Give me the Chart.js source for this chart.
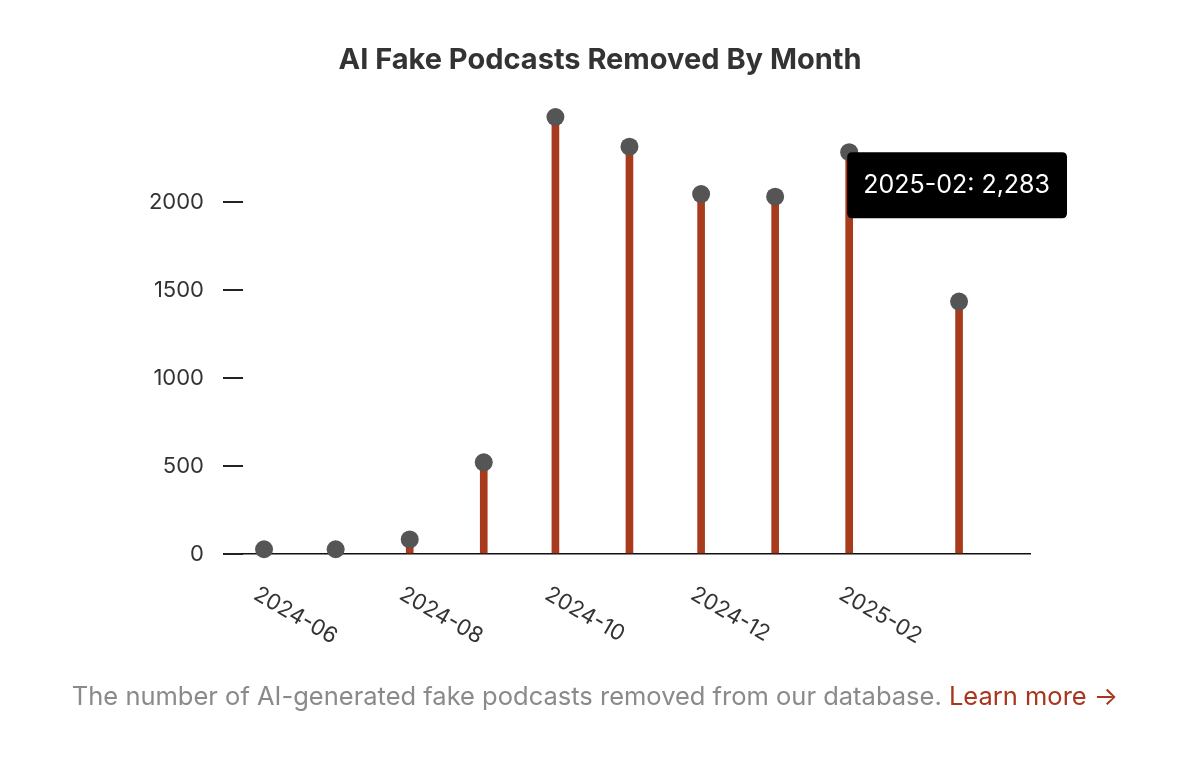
<!DOCTYPE html>
<html>
<head>
<meta charset="utf-8">
<script src="https://cdn.jsdelivr.net/npm/chart.js@4.4.1/dist/chart.umd.min.js"></script>
<style>
  html, body { margin: 0; padding: 0; background: #fff; overflow: hidden; }
  #wrap { position: relative; width: 1200px; height: 765px; }
  #cap { position: absolute; left: 0; width: 1190px; top: 679px; text-align: center;
         font-family: Inter, "Noto Sans", sans-serif; font-size: 25.5px; line-height: 34px; color: #8a8a8a; }
  #cap .lm { color: #a8361c; }
</style>
</head>
<body>
<div id="wrap">
  <canvas id="c"></canvas>
  <div id="cap">The number of AI-generated fake podcasts removed from our database. <span class="lm">Learn more →</span></div>
</div>
<script>
// ---- data ----
const months = ['2024-06','2024-07','2024-08','2024-09','2024-10','2024-11','2024-12','2025-01','2025-02','2025-03'];
const pointDates = ['2024-06-01','2024-07-01','2024-08-01','2024-09-01','2024-10-01','2024-11-01','2024-12-01','2025-01-01','2025-02-01','2025-03-19'];
const removed = [27, 27, 83, 521, 2483, 2314, 2045, 2030, 2283, 1434];
const xTickLabels = ['2024-06','2024-08','2024-10','2024-12','2025-02'];
const yTickValues = [0, 500, 1000, 1500, 2000];
const title = 'AI Fake Podcasts Removed By Month';

// days since first month (time axis)
const origin = Date.UTC(2024, 5, 1);
function dayOf(s) {
  const p = s.split('-').map(Number);
  return (Date.UTC(p[0], p[1] - 1, p[2] || 1) - origin) / 86400000;
}
const pts = pointDates.map((d, i) => ({ x: dayOf(d), y: removed[i] }));

const FONT = 'Inter, "Noto Sans", sans-serif';

const xLabelPlugin = {
  id: 'xlabels',
  afterDraw(chart) {
    const { ctx, scales: { x } } = chart;
    ctx.save();
    ctx.font = '22px ' + FONT;
    ctx.fillStyle = '#333';
    ctx.textAlign = 'left';
    ctx.textBaseline = 'top';
    xTickLabels.forEach(lbl => {
      const px = x.getPixelForValue(dayOf(lbl));
      ctx.save();
      ctx.translate(px - 3, x.top + 29);
      ctx.rotate(Math.PI / 6);
      ctx.fillText(lbl, 0, 0);
      ctx.restore();
    });
    ctx.restore();
  }
};

Chart.Tooltip.positioners.pinned = function (elements) {
  if (!elements.length) return false;
  const el = elements[0].element;
  return { x: el.x + 3, y: el.y, xAlign: 'left', yAlign: 'top' };
};

const chart = new Chart(document.getElementById('c'), {
  type: 'bar',
  data: {
    datasets: [
      { type: 'bar', data: pts, backgroundColor: '#a93b1d', barThickness: 7, order: 2 },
      { type: 'scatter', data: pts, pointRadius: 9, pointHoverRadius: 9, backgroundColor: '#555555',
        borderWidth: 0, pointBorderWidth: 0, order: 1, clip: false }
    ]
  },
  options: {
    responsive: true,
    maintainAspectRatio: false,
    animation: false,
    events: [],
    layout: { padding: { left: 0, right: 0, top: 0, bottom: 0 } },
    plugins: {
      legend: { display: false },
      title: {
        display: true, text: title, color: '#333',
        font: { family: FONT, size: 29, weight: 'bold' },
        padding: { top: 42.6, bottom: 36.6 }
      },
      tooltip: {
        enabled: true,
        position: 'pinned',
        xAlign: 'left', yAlign: 'top',
        backgroundColor: '#000',
        bodyColor: '#fff',
        bodyFont: { family: FONT, size: 25 },
        displayColors: false,
        caretSize: 0, caretPadding: 0, cornerRadius: 5,
        padding: { top: 18, bottom: 18, left: 16, right: 17 },
        callbacks: {
          title: () => '',
          label: c => months[c.dataIndex] + ': ' + c.parsed.y.toLocaleString('en-US')
        }
      }
    },
    scales: {
      x: {
        type: 'linear', min: -8.8, max: 320.7, offset: false,
        ticks: { display: false },
        grid: { display: false, offset: false },
        border: { display: true, color: '#111', width: 1.5 },
        afterFit(s) { s.height = 211; }
      },
      y: {
        min: 0, max: 2500,
        afterBuildTicks(s) { s.ticks = yTickValues.map(v => ({ value: v })); },
        ticks: { color: '#333', padding: 19, font: { family: FONT, size: 22 }, callback: v => String(v) },
        grid: { drawOnChartArea: false, tickLength: 20, color: '#222', lineWidth: 2 },
        border: { display: false },
        afterFit(s) { s.width = 243; }
      },
      yRight: {
        position: 'right', display: true,
        ticks: { display: false },
        grid: { display: false },
        border: { display: false },
        afterFit(s) { s.width = 170; }
      }
    }
  },
  plugins: [xLabelPlugin]
});

chart.tooltip.setActiveElements([{ datasetIndex: 1, index: 8 }], { x: 0, y: 0 });
chart.update();
</script>
</body>
</html>
